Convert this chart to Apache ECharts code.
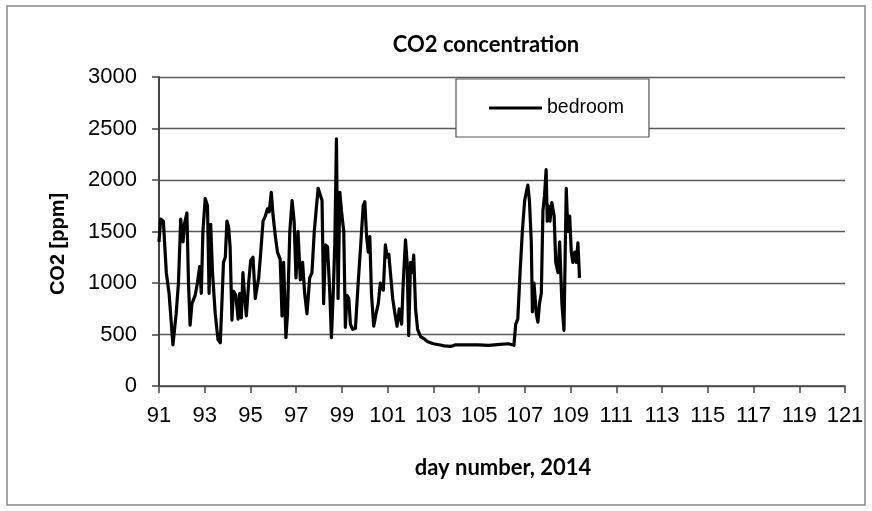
<!DOCTYPE html>
<html>
<head>
<meta charset="utf-8">
<script src="https://cdn.jsdelivr.net/npm/echarts@6/dist/echarts.min.js"></script>
<style>
  html, body { margin: 0; padding: 0; background: #fff; }
  #chart { width: 872px; height: 511px; }
</style>
</head>
<body>
<div id="chart"></div>
<script>
// Bedroom CO2 readings, day-of-year 2014 vs. concentration in ppm
const days = [
  91.00, 91.07, 91.19, 91.32, 91.44, 91.61, 91.75, 91.85, 91.95, 92.05,
  92.12, 92.22, 92.29, 92.36, 92.44, 92.58, 92.68, 92.78, 92.85, 92.92,
  93.02, 93.12, 93.19, 93.26, 93.34, 93.46, 93.58, 93.68, 93.75, 93.82,
  93.90, 93.97, 94.04, 94.11, 94.19, 94.26, 94.36, 94.46, 94.53, 94.60,
  94.67, 94.75, 94.82, 94.92, 95.01, 95.11, 95.21, 95.28, 95.36, 95.45,
  95.55, 95.65, 95.74, 95.82, 95.91, 95.99, 96.09, 96.18, 96.30, 96.38,
  96.45, 96.55, 96.62, 96.72, 96.82, 96.91, 96.99, 97.08, 97.18, 97.28,
  97.37, 97.47, 97.59, 97.69, 97.79, 97.89, 97.96, 98.03, 98.13, 98.20,
  98.28, 98.37, 98.47, 98.54, 98.62, 98.69, 98.76, 98.83, 98.91, 98.98,
  99.08, 99.15, 99.22, 99.30, 99.37, 99.47, 99.59, 99.71, 99.83, 99.93,
  100.00, 100.08, 100.15, 100.22, 100.29, 100.39, 100.49, 100.59, 100.68, 100.81,
  100.90, 100.98, 101.05, 101.12, 101.22, 101.32, 101.41, 101.51, 101.61, 101.68,
  101.78, 101.85, 101.92, 102.00, 102.07, 102.14, 102.22, 102.31, 102.44, 102.58,
  102.75, 103.00, 103.24, 103.48, 103.73, 103.85, 103.97, 104.46, 104.94, 105.43,
  105.91, 106.28, 106.52, 106.60, 106.69, 106.79, 106.89, 106.99, 107.08, 107.13,
  107.20, 107.28, 107.33, 107.40, 107.50, 107.57, 107.64, 107.72, 107.79, 107.86,
  107.93, 107.98, 108.03, 108.10, 108.18, 108.28, 108.35, 108.45, 108.52, 108.62,
  108.71, 108.76, 108.81, 108.88, 108.96, 109.03, 109.10, 109.18, 109.25, 109.32,
  109.39
];
const co2 = [
  1400, 1620, 1600, 1100, 900, 400, 700, 1000, 1620, 1400,
  1580, 1680, 1000, 590, 800, 880, 1000, 1160, 900, 1500,
  1820, 1750, 900, 1570, 1100, 700, 450, 420, 800, 1200,
  1250, 1600, 1550, 1350, 640, 920, 880, 650, 900, 660,
  1100, 850, 680, 1000, 1220, 1250, 850, 950, 1050, 1300,
  1600, 1650, 1720, 1690, 1880, 1650, 1450, 1300, 1230, 680,
  1200, 470, 700, 1500, 1800, 1600, 1050, 1500, 1030, 1200,
  900, 700, 1050, 1100, 1500, 1750, 1920, 1930, 1800, 800,
  1370, 1350, 900, 470, 900, 1400, 2400, 850, 1880, 1700,
  1500, 570, 880, 850, 600, 550, 560, 1000, 1400, 1750,
  1790, 1450, 1300, 1450, 900, 580, 700, 800, 1000, 930,
  1370, 1250, 1280, 1100, 850, 700, 580, 750, 600, 1000,
  1420, 1200, 490, 1200, 1100, 1270, 750, 550, 480, 460,
  430, 410, 400, 390, 385, 390, 400, 400, 400, 395,
  405, 410, 395, 600, 650, 1100, 1500, 1800, 1900, 1950,
  1800, 1400, 720, 1000, 700, 620, 800, 900, 1700, 1850,
  2100, 1600, 1750, 1600, 1780, 1650, 1200, 1100, 1400, 800,
  540, 530, 1920, 1500, 1650, 1300, 1200, 1300, 1200, 1390,
  1050
];
const seriesName = 'bedroom';
const xTicks = [91, 93, 95, 97, 99, 101, 103, 105, 107, 109, 111, 113, 115, 117, 119, 121];
const yTicks = [0, 500, 1000, 1500, 2000, 2500, 3000];

const points = days.map((d, i) => [d, co2[i]]);

const chart = echarts.init(document.getElementById('chart'), null, { renderer: 'canvas' });
chart.setOption({
  animation: false,
  backgroundColor: '#fff',
  grid: { left: 159, right: 27, top: 77, bottom: 125, containLabel: false },
  xAxis: {
    type: 'value',
    min: xTicks[0],
    max: xTicks[xTicks.length - 1],
    axisLine: { show: true, lineStyle: { color: '#444', width: 1.5 } },
    axisTick: { show: true, inside: false, length: 7, customValues: xTicks, lineStyle: { color: '#444', width: 1.5 } },
    axisLabel: { customValues: xTicks, margin: 19, color: '#000', fontSize: 22, fontFamily: 'Liberation Sans, Arial, sans-serif', formatter: v => String(v) },
    splitLine: { show: false }
  },
  yAxis: {
    type: 'value',
    min: yTicks[0],
    max: yTicks[yTicks.length - 1],
    interval: 500,
    axisLine: { show: true, lineStyle: { color: '#444', width: 2 } },
    axisTick: { show: true, inside: false, length: 7, lineStyle: { color: '#444', width: 1.5 } },
    axisLabel: { margin: 22, color: '#000', fontSize: 22, fontFamily: 'Liberation Sans, Arial, sans-serif', formatter: v => String(v) },
    splitLine: { show: true, lineStyle: { color: '#5a5a5a', width: 1.4 } }
  },
  legend: {
    left: 456,
    top: 79,
    orient: 'horizontal',
    padding: [19, 25, 19, 33],
    backgroundColor: '#fff',
    borderColor: '#555',
    borderWidth: 1.2,
    borderRadius: 0,
    itemWidth: 53,
    itemHeight: 3,
    data: [{ name: seriesName, icon: 'rect', itemStyle: { color: '#000' } }],
    textStyle: { color: '#000', fontSize: 19.5, fontFamily: 'Liberation Sans, Arial, sans-serif' }
  },
  graphic: [
    {
      type: 'rect',
      shape: { x: 7, y: 6, width: 858, height: 499 },
      style: { fill: 'none', stroke: '#888', lineWidth: 1.5 },
      silent: true,
      z: -10
    },
    {
      type: 'text',
      x: 486, y: 45,
      style: {
        text: 'CO2 concentration',
        x: 0, y: 0,
        align: 'center', verticalAlign: 'middle',
        fill: '#000',
        font: 'bold 22px Lato, "Liberation Sans", sans-serif'
      }
    },
    {
      type: 'text',
      rotation: Math.PI / 2,
      x: 58, y: 244,
      style: {
        text: 'CO2 [ppm]',
        x: 0, y: 0,
        align: 'center', verticalAlign: 'middle',
        fill: '#000',
        font: 'bold 20px "Liberation Sans", Arial, sans-serif'
      }
    },
    {
      type: 'text',
      x: 503, y: 468,
      style: {
        text: 'day number, 2014',
        x: 0, y: 0,
        align: 'center', verticalAlign: 'middle',
        fill: '#000',
        font: 'bold 22px Lato, "Liberation Sans", sans-serif'
      }
    }
  ],
  series: [{
    name: seriesName,
    type: 'line',
    data: points,
    symbol: 'none',
    showSymbol: false,
    lineStyle: { color: '#000', width: 3.2, join: 'round' },
    itemStyle: { color: '#000' }
  }]
});
</script>
</body>
</html>
